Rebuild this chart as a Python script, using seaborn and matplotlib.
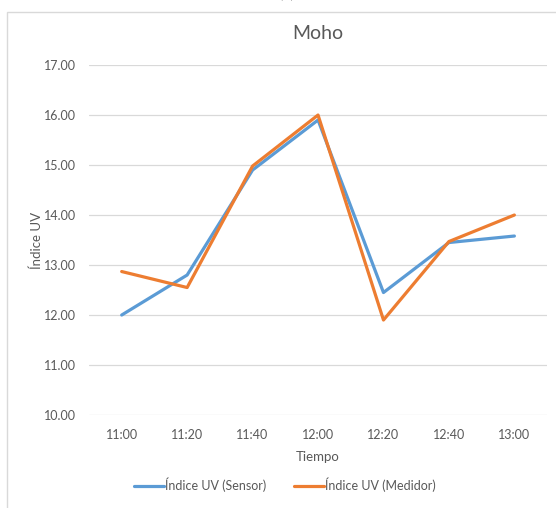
import pandas as pd
import matplotlib
matplotlib.use("Agg")
import matplotlib.pyplot as plt
import seaborn as sns
from matplotlib.lines import Line2D
from matplotlib.patches import Rectangle

# data
tiempo = ['11:00', '11:20', '11:40', '12:00', '12:20', '12:40', '13:00']
uv_sensor = [12.00, 12.80, 14.90, 15.90, 12.45, 13.45, 13.58]
uv_medidor = [12.87, 12.55, 14.98, 16.00, 11.90, 13.47, 14.00]
series_names = ['Índice UV (Sensor)', 'Índice UV (Medidor)']
y_ticks = [10, 11, 12, 13, 14, 15, 16, 17]

colors = ['#5B9BD5', '#ED7D31']
txt_gray = '#595959'

sns.set_theme(style='white')
plt.rcParams['font.family'] = ['Lato', 'DejaVu Sans']

df = pd.DataFrame({
    'Tiempo': tiempo * 2,
    'UV': uv_sensor + uv_medidor,
    'Serie': [series_names[0]] * len(tiempo) + [series_names[1]] * len(tiempo),
})

fig = plt.figure(figsize=(5.56, 5.08), dpi=100)
ax = fig.add_axes([0.160, 0.183, 0.824, 0.689])

# chart area border (Excel style)
fig.patches.append(Rectangle((7 / 556, -0.1), 1.2, 1.1 - 12 / 508,
                             transform=fig.transFigure, fill=False,
                             edgecolor='#D9D9D9', linewidth=1.0))

sns.lineplot(data=df, x='Tiempo', y='UV', hue='Serie', palette=colors,
             linewidth=2.3, sort=False, legend=False, ax=ax)

ax.set_xlim(-0.5, len(tiempo) - 0.5)
ax.set_ylim(10, 17)
ax.set_yticks(y_ticks)
ax.set_yticklabels([f'{v:.2f}' for v in y_ticks])
ax.grid(axis='y', color='#D9D9D9', linewidth=0.9)
ax.grid(axis='x', visible=False)
ax.set_axisbelow(True)
for s in ax.spines.values():
    s.set_visible(False)
ax.tick_params(axis='both', length=0, labelsize=9, labelcolor=txt_gray)
ax.tick_params(axis='y', pad=9)
ax.tick_params(axis='x', pad=10)

ax.set_title('Moho', fontsize=14, color=txt_gray, pad=19)
ax.set_xlabel('Tiempo', fontsize=9.5, color=txt_gray, labelpad=7)
ax.set_ylabel('Índice UV', fontsize=9.5, color=txt_gray, labelpad=1)

fig.text(0.516, 1.013, '(c)', ha='center', va='center', fontsize=12, color='#333333')

handles = [Line2D([0], [0], color=c, linewidth=2.3) for c in colors]
fig.legend(handles, series_names, loc='center', bbox_to_anchor=(285 / 556, 1 - 485 / 508),
           ncol=2, frameon=False, fontsize=9, handlelength=2.4, handletextpad=0.1,
           columnspacing=2.2, labelcolor=txt_gray)

fig.savefig('out.png', dpi=100)
